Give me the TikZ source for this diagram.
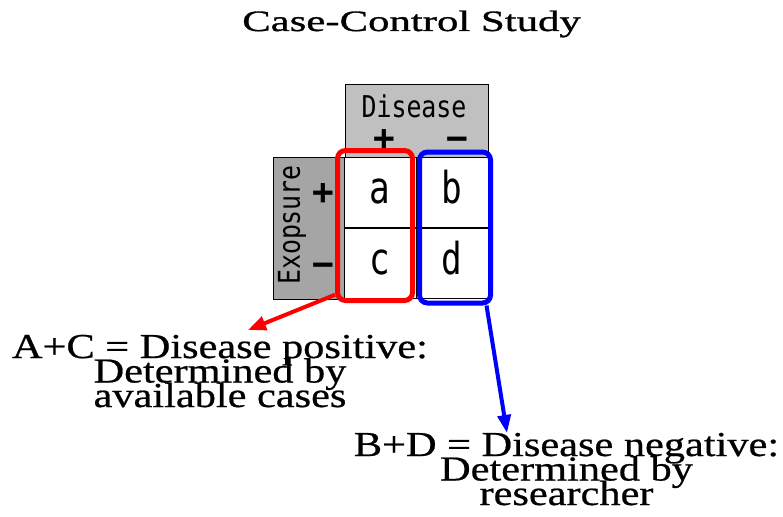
\documentclass[tikz,border=0pt]{standalone}
\usepackage{fontspec}
\setmainfont{Liberation Serif}
\newfontfamily\titlefont[FakeStretch=1.45,FakeBold=1]{Liberation Serif}
\newfontfamily\labfont[FakeStretch=1.21,FakeBold=0.6]{Liberation Serif}
\newfontfamily\monof[FakeStretch=0.83]{DejaVu Sans Mono}
\newfontfamily\cellf[FakeStretch=0.78]{DejaVu Sans Mono}
\newfontfamily\signf{DejaVu Sans Mono Bold}
\newcommand\tightlines{\lineskiplimit=-100pt\relax\lineskip=0pt\relax}
\usetikzlibrary{arrows.meta}
\definecolor{lightg}{RGB}{192,192,192}
\definecolor{darkg}{RGB}{165,165,165}
\begin{document}
\begin{tikzpicture}[x=1pt,y=-1pt,
  cell/.style={draw=black,line width=0.8pt,fill=white,minimum width=72pt,minimum height=70pt,inner sep=0pt,
    text height=31pt,text depth=9pt,font=\cellf\fontsize{44}{44}\selectfont},
  hdr/.style={draw=black,line width=0.8pt,inner sep=0pt},
  mono/.style={inner sep=0pt,font=\monof\fontsize{30}{30}\selectfont},
  sign/.style={inner sep=0pt,anchor=base,font=\signf\fontsize{36}{36}\selectfont},
  grp/.style={rounded corners=8pt,line width=5pt,inner sep=0pt},
  lab/.style={inner sep=0pt,align=center,font=\labfont\fontsize{35}{24.5}\selectfont\tightlines},
  arr/.style={line width=4pt}
]
\useasboundingbox (0,0) rectangle (783,516);
% title
\node[inner sep=0pt,anchor=base,font=\titlefont\fontsize{29.5}{29.5}\selectfont] (title) at (411.5,31) {Case-Control Study};
% headers
\node[hdr,fill=lightg,minimum width=143pt,minimum height=73pt] (dis) at (416.5,120.5) {};
\node[hdr,fill=darkg,minimum width=71pt,minimum height=142pt] (exp) at (308.5,228) {};
\node[mono] (distxt) at (414,106) {Disease};
\node[sign] (dplus) at (384,150) {+};
\node[sign] (dminus) at (457,150) {−};
\node[mono,rotate=90] (exptxt) at (292,225) {Exopsure};
\node[sign] (eplus) at (323,204) {+};
\node[sign] (eminus) at (323,276) {−};
% cells
\node[cell] (a) at (380,192) {a};
\node[cell] (b) at (452,192) {b};
\node[cell] (c) at (380,263) {c};
\node[cell] (d) at (452,263) {d};
% group boxes
\node[grp,draw=red,minimum width=75pt,minimum height=150pt] (redbox) at (375,225.5) {};
\node[grp,draw=blue,minimum width=71pt,minimum height=151pt] (bluebox) at (455,227.5) {};
% labels
\node[lab,anchor=base] (redlab) at (220,407) {A+C = Disease positive:\\Determined by\\available cases};
\node[lab,anchor=base] (bluelab) at (566.5,505) {B+D = Disease negative:\\Determined by\\researcher};
% arrows
\coordinate (rtip) at (248,330);
\coordinate (btip) at (507,433);
\draw[arr,red,-{Triangle[length=18pt,width=14pt]}] (redbox.240) -- (rtip);
\draw[arr,blue,-{Triangle[length=18pt,width=13pt]}] (bluebox.292) -- (btip);
\end{tikzpicture}
\end{document}
